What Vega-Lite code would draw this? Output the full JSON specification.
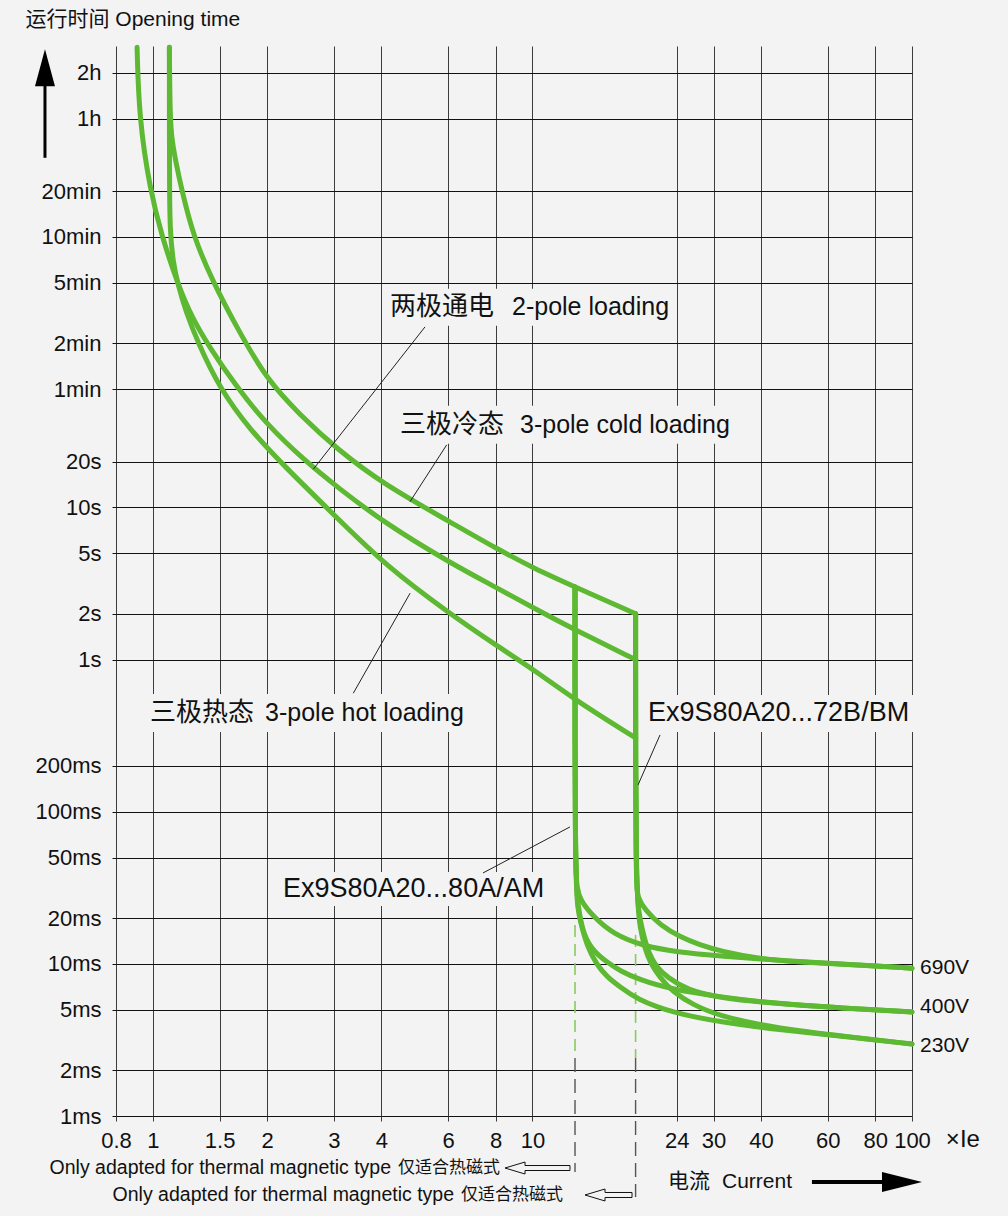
{
  "$schema": "https://vega.github.io/schema/vega-lite/v6.json",
  "width": 796,
  "height": 1070,
  "autosize": {"type": "none"},
  "padding": {"left": 116, "top": 46, "right": 96, "bottom": 100},
  "background": "#f3f3f3",
  "config": {"view": {"stroke": null}, "font": "Liberation Sans, Noto Sans CJK SC, sans-serif"},
  "datasets": {
    "curves": [
      {"s": "p2", "i": 0, "x": 0.909, "t": 10600}, {"s": "p2", "i": 1, "x": 0.92, "t": 3642}, {"s": "p2", "i": 2, "x": 0.983, "t": 1225}, {"s": "p2", "i": 3, "x": 1.057, "t": 604}, {"s": "p2", "i": 4, "x": 1.158, "t": 304}, {"s": "p2", "i": 5, "x": 1.268, "t": 176.4}, {"s": "p2", "i": 6, "x": 1.415, "t": 112.0}, {"s": "p2", "i": 7, "x": 1.647, "t": 63.97}, {"s": "p2", "i": 8, "x": 1.999, "t": 34.93}, {"s": "p2", "i": 9, "x": 2.518, "t": 20.25}, {"s": "p2", "i": 10, "x": 3.057, "t": 13.66}, {"s": "p2", "i": 11, "x": 4.04, "t": 8.04}, {"s": "p2", "i": 12, "x": 6.067, "t": 4.323}, {"s": "p2", "i": 13, "x": 8.068, "t": 2.961}, {"s": "p2", "i": 14, "x": 10.28, "t": 2.122}, {"s": "p2", "i": 15, "x": 12.95, "t": 1.568}, {"s": "p2", "i": 16, "x": 18.7, "t": 1.0},
      {"s": "hot", "i": 0, "x": 1.106, "t": 10600}, {"s": "hot", "i": 1, "x": 1.106, "t": 3642}, {"s": "hot", "i": 2, "x": 1.107, "t": 1225}, {"s": "hot", "i": 3, "x": 1.11, "t": 668.6}, {"s": "hot", "i": 4, "x": 1.13, "t": 411.8}, {"s": "hot", "i": 5, "x": 1.165, "t": 290.8}, {"s": "hot", "i": 6, "x": 1.223, "t": 193.2}, {"s": "hot", "i": 7, "x": 1.315, "t": 120.9}, {"s": "hot", "i": 8, "x": 1.503, "t": 60.2}, {"s": "hot", "i": 9, "x": 1.804, "t": 32.37}, {"s": "hot", "i": 10, "x": 2.203, "t": 19.06}, {"s": "hot", "i": 11, "x": 3.057, "t": 8.54}, {"s": "hot", "i": 12, "x": 4.115, "t": 4.13}, {"s": "hot", "i": 13, "x": 6.067, "t": 1.998}, {"s": "hot", "i": 14, "x": 8.068, "t": 1.231}, {"s": "hot", "i": 15, "x": 10.28, "t": 0.83}, {"s": "hot", "i": 16, "x": 12.95, "t": 0.543}, {"s": "hot", "i": 17, "x": 18.7, "t": 0.3057},
      {"s": "cold", "i": 0, "x": 1.106, "t": 10600}, {"s": "cold", "i": 1, "x": 1.11, "t": 3642}, {"s": "cold", "i": 2, "x": 1.123, "t": 2611}, {"s": "cold", "i": 3, "x": 1.151, "t": 1843}, {"s": "cold", "i": 4, "x": 1.192, "t": 1225}, {"s": "cold", "i": 5, "x": 1.279, "t": 604}, {"s": "cold", "i": 6, "x": 1.441, "t": 304}, {"s": "cold", "i": 7, "x": 1.677, "t": 147.2}, {"s": "cold", "i": 8, "x": 1.999, "t": 69.02}, {"s": "cold", "i": 9, "x": 2.442, "t": 40.62}, {"s": "cold", "i": 10, "x": 3.051, "t": 24.29}, {"s": "cold", "i": 11, "x": 4.04, "t": 14.3}, {"s": "cold", "i": 12, "x": 6.067, "t": 8.04}, {"s": "cold", "i": 13, "x": 8.068, "t": 5.343}, {"s": "cold", "i": 14, "x": 10.04, "t": 4.008}, {"s": "cold", "i": 15, "x": 12.95, "t": 3.006}, {"s": "cold", "i": 16, "x": 18.7, "t": 2.0},
      {"s": "L690", "i": 0, "x": 12.95, "t": 3.006}, {"s": "L690", "i": 1, "x": 12.95, "t": 0.04144}, {"s": "L690", "i": 2, "x": 13.11, "t": 0.03155}, {"s": "L690", "i": 3, "x": 13.35, "t": 0.02631}, {"s": "L690", "i": 4, "x": 14.47, "t": 0.02043}, {"s": "L690", "i": 5, "x": 16.31, "t": 0.01573}, {"s": "L690", "i": 6, "x": 19.56, "t": 0.01311}, {"s": "L690", "i": 7, "x": 24.04, "t": 0.01197}, {"s": "L690", "i": 8, "x": 31.2, "t": 0.01127}, {"s": "L690", "i": 9, "x": 46.86, "t": 0.01045}, {"s": "L690", "i": 10, "x": 68.66, "t": 0.00991}, {"s": "L690", "i": 11, "x": 100, "t": 0.00936},
      {"s": "L400", "i": 0, "x": 12.95, "t": 3.006}, {"s": "L400", "i": 1, "x": 12.95, "t": 0.03561}, {"s": "L400", "i": 2, "x": 13.19, "t": 0.02439}, {"s": "L400", "i": 3, "x": 13.59, "t": 0.01549}, {"s": "L400", "i": 4, "x": 14.62, "t": 0.01179}, {"s": "L400", "i": 5, "x": 15.73, "t": 0.01029}, {"s": "L400", "i": 6, "x": 17.02, "t": 0.00898}, {"s": "L400", "i": 7, "x": 19.21, "t": 0.00784}, {"s": "L400", "i": 8, "x": 23.04, "t": 0.00684}, {"s": "L400", "i": 9, "x": 31.2, "t": 0.00606}, {"s": "L400", "i": 10, "x": 42.26, "t": 0.00553}, {"s": "L400", "i": 11, "x": 64.62, "t": 0.00513}, {"s": "L400", "i": 12, "x": 100, "t": 0.00483},
      {"s": "L230", "i": 0, "x": 12.95, "t": 3.006}, {"s": "L230", "i": 1, "x": 12.95, "t": 0.03561}, {"s": "L230", "i": 2, "x": 13.19, "t": 0.02262}, {"s": "L230", "i": 3, "x": 13.35, "t": 0.01944}, {"s": "L230", "i": 4, "x": 13.93, "t": 0.01292}, {"s": "L230", "i": 5, "x": 14.8, "t": 0.00983}, {"s": "L230", "i": 6, "x": 15.73, "t": 0.0082}, {"s": "L230", "i": 7, "x": 17.02, "t": 0.00705}, {"s": "L230", "i": 8, "x": 18.83, "t": 0.00586}, {"s": "L230", "i": 9, "x": 23.46, "t": 0.00476}, {"s": "L230", "i": 10, "x": 31.2, "t": 0.00415}, {"s": "L230", "i": 11, "x": 44.92, "t": 0.00368}, {"s": "L230", "i": 12, "x": 68.66, "t": 0.00331}, {"s": "L230", "i": 13, "x": 100, "t": 0.00297},
      {"s": "R690", "i": 0, "x": 18.7, "t": 2.0}, {"s": "R690", "i": 1, "x": 18.7, "t": 0.03302}, {"s": "R690", "i": 2, "x": 18.98, "t": 0.02712}, {"s": "R690", "i": 3, "x": 19.8, "t": 0.02262}, {"s": "R690", "i": 4, "x": 21.69, "t": 0.01802}, {"s": "R690", "i": 5, "x": 24.48, "t": 0.01503}, {"s": "R690", "i": 6, "x": 27.65, "t": 0.01331}, {"s": "R690", "i": 7, "x": 31.2, "t": 0.01215}, {"s": "R690", "i": 8, "x": 39.78, "t": 0.01077}, {"s": "R690", "i": 9, "x": 50.71, "t": 0.01029}, {"s": "R690", "i": 10, "x": 68.66, "t": 0.00991}, {"s": "R690", "i": 11, "x": 100, "t": 0.00936},
      {"s": "R400", "i": 0, "x": 18.7, "t": 2.0}, {"s": "R400", "i": 1, "x": 18.7, "t": 0.02925}, {"s": "R400", "i": 2, "x": 19.21, "t": 0.01944}, {"s": "R400", "i": 3, "x": 20.04, "t": 0.01234}, {"s": "R400", "i": 4, "x": 21.3, "t": 0.0094}, {"s": "R400", "i": 5, "x": 22.62, "t": 0.0082}, {"s": "R400", "i": 6, "x": 25.54, "t": 0.00674}, {"s": "R400", "i": 7, "x": 31.2, "t": 0.00597}, {"s": "R400", "i": 8, "x": 42.26, "t": 0.00553}, {"s": "R400", "i": 9, "x": 64.62, "t": 0.00513}, {"s": "R400", "i": 10, "x": 100, "t": 0.00483},
      {"s": "R230", "i": 0, "x": 18.7, "t": 2.0}, {"s": "R230", "i": 1, "x": 18.7, "t": 0.02838}, {"s": "R230", "i": 2, "x": 19.21, "t": 0.01722}, {"s": "R230", "i": 3, "x": 20.04, "t": 0.01094}, {"s": "R230", "i": 4, "x": 21.69, "t": 0.00808}, {"s": "R230", "i": 5, "x": 23.46, "t": 0.00654}, {"s": "R230", "i": 6, "x": 26.49, "t": 0.00537}, {"s": "R230", "i": 7, "x": 31.2, "t": 0.00455}, {"s": "R230", "i": 8, "x": 39.78, "t": 0.00397}, {"s": "R230", "i": 9, "x": 50.71, "t": 0.00362}, {"s": "R230", "i": 10, "x": 68.66, "t": 0.00331}, {"s": "R230", "i": 11, "x": 100, "t": 0.00297}
    ],
    "masks": [
      {"x": 4.066, "x2": 23.32, "t": 273.6, "t2": 156.3},
      {"x": 4.267, "x2": 34.81, "t": 46.56, "t2": 26.19},
      {"x": 0.948, "x2": 6.933, "t": 0.5951, "t2": 0.3347},
      {"x": 19.68, "x2": 101, "t": 0.5861, "t2": 0.3347},
      {"x": 2.138, "x2": 11.26, "t": 0.0402, "t2": 0.02403}
    ],
    "dashGreen": [
      {"x": 12.95, "t": 0.01802, "t2": 0.002406},
      {"x": 18.7, "t": 0.01549, "t2": 0.002406}
    ],
    "dashDark": [
      {"x": 12.95, "t": 0.002406, "t2": 0.000428},
      {"x": 18.7, "t": 0.002406, "t2": 0.000293}
    ],
    "leaders": [
      {"x": 5.214, "t": 153.9, "x2": 2.648, "t2": 17.86},
      {"x": 5.946, "t": 25.8, "x2": 4.763, "t2": 10.94},
      {"x": 4.763, "t": 2.734, "x2": 3.375, "t2": 0.6015},
      {"x": 21.69, "t": 0.3198, "x2": 18.98, "t2": 0.1501},
      {"x": 12.56, "t": 0.07945, "x2": 7.411, "t2": 0.03959}
    ],
    "cjkLabels": [
      {"text": "两极通电", "x": 4.217, "t": 208.4},
      {"text": "三极冷态", "x": 4.481, "t": 34.93},
      {"text": "三极热态", "x": 0.983, "t": 0.4462}
    ],
    "latinLabels": [
      {"text": "2-pole loading", "x": 8.837, "t": 208.4},
      {"text": "3-pole cold loading", "x": 9.276, "t": 34.93},
      {"text": "3-pole hot loading", "x": 1.976, "t": 0.4462}
    ],
    "models": [
      {"text": "Ex9S80A20...72B/BM", "x": 20.16, "t": 0.4462},
      {"text": "Ex9S80A20...80A/AM", "x": 2.203, "t": 0.03108}
    ],
    "volts": [
      {"text": "690V", "x": 105, "t": 0.0094},
      {"text": "400V", "x": 105, "t": 0.00521},
      {"text": "230V", "x": 105, "t": 0.002886}
    ],
    "notesLatin": [
      {"text": "Only adapted for thermal magnetic type", "x": 4.242, "t": 0.000455},
      {"text": "Only adapted for thermal magnetic type", "x": 6.217, "t": 0.0003025}
    ],
    "notesCjk": [
      {"text": "仅适合热磁式", "x": 8.22, "t": 0.000455},
      {"text": "仅适合热磁式", "x": 12.04, "t": 0.0003025}
    ],
    "bottomCjk": [{"text": "电流", "x": 22.77, "t": 0.000368}],
    "bottomLatin": [
      {"text": "Current", "x": 31.59, "t": 0.000368}
    ],
    "unitLabel": [
      {"text": "×Ie", "x": 122.8, "t": 0.000696}
    ],
    "hollowShafts": [
      {"x": 9.56, "x2": 12.56, "t": 0.0004726, "t2": 0.0004726},
      {"x": 9.56, "x2": 12.56, "t": 0.0004382, "t2": 0.0004382},
      {"x": 12.56, "x2": 12.56, "t": 0.0004726, "t2": 0.0004382},
      {"x": 15.54, "x2": 18.3, "t": 0.0003142, "t2": 0.0003142},
      {"x": 15.54, "x2": 18.3, "t": 0.0002913, "t2": 0.0002913},
      {"x": 18.3, "x2": 18.3, "t": 0.0003142, "t2": 0.0002913}
    ],
    "hollowHeads": [
      {"x": 9.0, "t": 0.000455},
      {"x": 14.62, "t": 0.0003025}
    ],
    "currentShaft": [{"x": 54.5, "x2": 84.4, "t": 0.000368, "t2": 0.000368}],
    "currentHead": [{"x": 94.12, "t": 0.000368}],
    "upShaft": [{"x": 0.52, "x2": 0.52, "t": 5914, "t2": 1989}],
    "upHead": [{"x": 0.52, "t": 7767}]
  },
  "encoding": {
    "x": {
      "field": "x", "type": "quantitative",
      "scale": {"type": "log", "domain": [0.8, 100], "nice": false},
      "axis": {
        "values": [0.8, 1, 1.5, 2, 3, 4, 6, 8, 10, 24, 30, 40, 60, 80, 100],
        "format": "~g", "title": null, "grid": true, "gridColor": "#3c3c3c", "gridWidth": 1, "gridOpacity": 1,
        "domain": false, "ticks": true, "tickSize": 5, "tickColor": "#3c3c3c",
        "labelFont": "Liberation Sans, sans-serif", "labelFontSize": 22, "labelColor": "#111",
        "labelPadding": 9, "labelFlush": false, "labelOverlap": false, "labelBound": false
      }
    },
    "y": {
      "field": "t", "type": "quantitative",
      "scale": {"type": "log", "domain": [0.001, 10800], "nice": false},
      "axis": {
        "values": [0.001, 0.002, 0.005, 0.01, 0.02, 0.05, 0.1, 0.2, 1, 2, 5, 10, 20, 60, 120, 300, 600, 1200, 3600, 7200],
        "labelExpr": "datum.value < 0.9 ? round(datum.value*1000) + 'ms' : datum.value < 59 ? round(datum.value) + 's' : datum.value < 3500 ? round(datum.value/60) + 'min' : round(datum.value/3600) + 'h'",
        "grid": true, "gridColor": "#111", "gridWidth": 1, "gridOpacity": 1,
        "domain": false, "ticks": true, "tickSize": 4, "tickColor": "#111",
        "labelFont": "Liberation Sans, sans-serif", "labelFontSize": 22, "labelColor": "#111",
        "labelPadding": 11, "labelOverlap": false, "labelBound": false, "labelFlush": false,
        "title": "运行时间 Opening time", "titleAngle": 0, "titleAlign": "left", "titleBaseline": "middle",
        "titleX": -91, "titleY": -27, "titleFont": "Liberation Sans, Noto Sans CJK SC, sans-serif",
        "titleFontSize": 21, "titleFontWeight": "normal", "titleColor": "#111"
      }
    }
  },
  "layer": [
    {
      "data": {"name": "masks"},
      "mark": {"type": "rect", "fill": "#f3f3f3", "stroke": null},
      "encoding": {"x2": {"field": "x2"}, "y2": {"field": "t2"}}
    },
    {
      "data": {"name": "dashGreen"},
      "mark": {"type": "rule", "color": "#86cc5e", "strokeWidth": 1.6, "strokeDash": [12, 7]},
      "encoding": {"y2": {"field": "t2"}}
    },
    {
      "data": {"name": "dashDark"},
      "mark": {"type": "rule", "color": "#555", "strokeWidth": 1.4, "strokeDash": [14, 7]},
      "encoding": {"y2": {"field": "t2"}}
    },
    {
      "data": {"name": "curves"},
      "mark": {"type": "line", "color": "#5db832", "strokeWidth": 5, "strokeCap": "round", "strokeJoin": "round", "interpolate": "basis"},
      "encoding": {"detail": {"field": "s"}, "order": {"field": "i", "type": "quantitative"}}
    },
    {
      "data": {"name": "leaders"},
      "mark": {"type": "rule", "color": "#222", "strokeWidth": 1},
      "encoding": {"x2": {"field": "x2"}, "y2": {"field": "t2"}}
    },
    {
      "data": {"name": "cjkLabels"},
      "mark": {"type": "text", "align": "left", "baseline": "middle", "font": "Noto Sans CJK SC, sans-serif", "fontSize": 26, "color": "#111"},
      "encoding": {"text": {"field": "text"}}
    },
    {
      "data": {"name": "latinLabels"},
      "mark": {"type": "text", "align": "left", "baseline": "middle", "font": "Liberation Sans, sans-serif", "fontSize": 25, "color": "#111"},
      "encoding": {"text": {"field": "text"}}
    },
    {
      "data": {"name": "models"},
      "mark": {"type": "text", "align": "left", "baseline": "middle", "font": "Liberation Sans, sans-serif", "fontSize": 27, "color": "#111"},
      "encoding": {"text": {"field": "text"}}
    },
    {
      "data": {"name": "volts"},
      "mark": {"type": "text", "align": "left", "baseline": "middle", "font": "Liberation Sans, sans-serif", "fontSize": 21, "color": "#111"},
      "encoding": {"text": {"field": "text"}}
    },
    {
      "data": {"name": "notesLatin"},
      "mark": {"type": "text", "align": "right", "baseline": "middle", "font": "Liberation Sans, sans-serif", "fontSize": 19.5, "color": "#111"},
      "encoding": {"text": {"field": "text"}}
    },
    {
      "data": {"name": "notesCjk"},
      "mark": {"type": "text", "align": "right", "baseline": "middle", "font": "Noto Sans CJK SC, sans-serif", "fontSize": 17, "color": "#111"},
      "encoding": {"text": {"field": "text"}}
    },
    {
      "data": {"name": "bottomCjk"},
      "mark": {"type": "text", "align": "left", "baseline": "middle", "font": "Noto Sans CJK SC, sans-serif", "fontSize": 21, "color": "#111"},
      "encoding": {"text": {"field": "text"}}
    },
    {
      "data": {"name": "bottomLatin"},
      "mark": {"type": "text", "align": "left", "baseline": "middle", "font": "Liberation Sans, sans-serif", "fontSize": 21, "color": "#111"},
      "encoding": {"text": {"field": "text"}}
    },
    {
      "data": {"name": "unitLabel"},
      "mark": {"type": "text", "align": "left", "baseline": "middle", "font": "Liberation Sans, sans-serif", "fontSize": 24, "color": "#111"},
      "encoding": {"text": {"field": "text"}}
    },
    {
      "data": {"name": "hollowShafts"},
      "mark": {"type": "rule", "color": "#111", "strokeWidth": 1},
      "encoding": {"x2": {"field": "x2"}, "y2": {"field": "t2"}}
    },
    {
      "data": {"name": "hollowHeads"},
      "mark": {"type": "point", "shape": "M1,-0.25L1,-0.6L-1,0L1,0.6L1,0.25", "size": 400, "filled": false, "stroke": "#111", "strokeWidth": 1, "opacity": 1}
    },
    {
      "data": {"name": "currentShaft"},
      "mark": {"type": "rule", "color": "#000", "strokeWidth": 4},
      "encoding": {"x2": {"field": "x2"}, "y2": {"field": "t2"}}
    },
    {
      "data": {"name": "currentHead"},
      "mark": {"type": "point", "shape": "M-1,-0.5L1,0L-1,0.5Z", "size": 1600, "filled": true, "color": "#000", "opacity": 1}
    },
    {
      "data": {"name": "upShaft"},
      "mark": {"type": "rule", "color": "#000", "strokeWidth": 3},
      "encoding": {"x2": {"field": "x2"}, "y2": {"field": "t2"}}
    },
    {
      "data": {"name": "upHead"},
      "mark": {"type": "point", "shape": "M-0.54,1L0,-1L0.54,1Z", "size": 1369, "filled": true, "color": "#000", "opacity": 1}
    }
  ]
}
